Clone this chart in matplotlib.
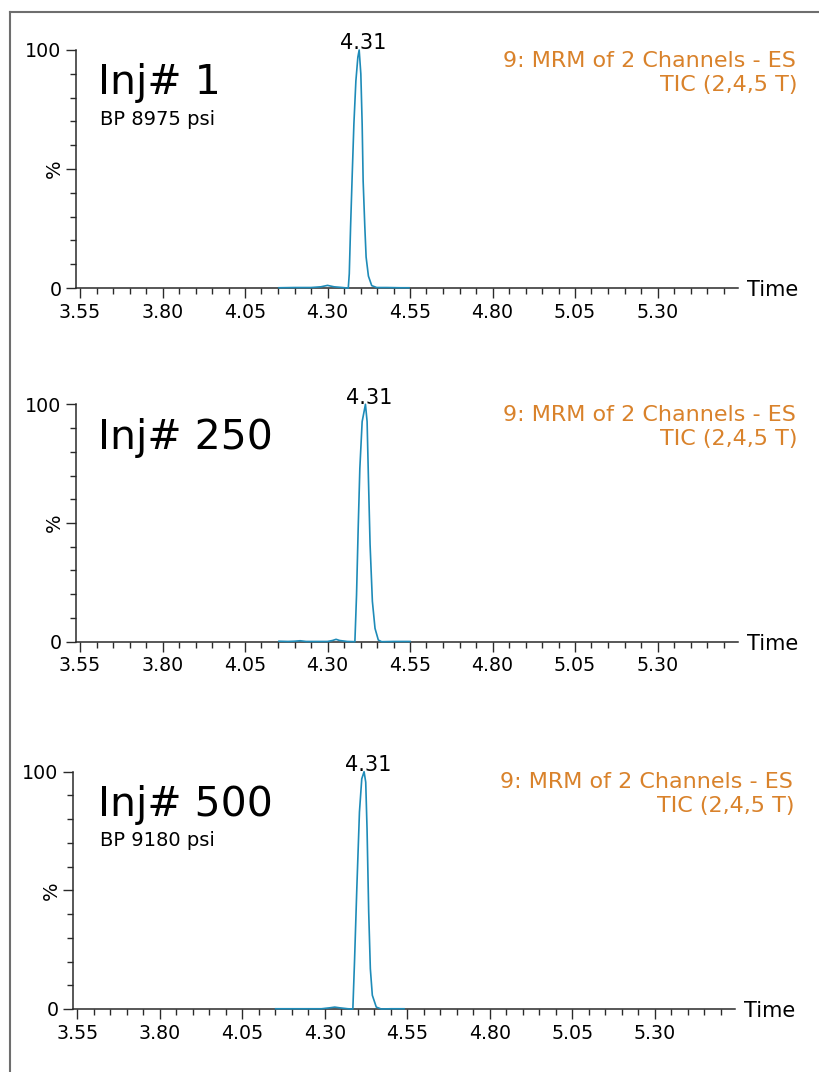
import matplotlib
matplotlib.use("Agg")
import matplotlib.pyplot as plt
from matplotlib.lines import Line2D
import numpy as np

plt.rcParams['font.family'] = ['DejaVu Sans']

# ---------------- data ----------------
inj_labels = ["Inj# 1", "Inj# 250", "Inj# 500"]
bp_labels = ["BP 8975 psi", None, "BP 9180 psi"]
peak_label = "4.31"
channel_line1 = "9: MRM of 2 Channels - ES"
channel_line2 = "TIC (2,4,5 T)"
x_major = [3.55, 3.80, 4.05, 4.30, 4.55, 4.80, 5.05, 5.30]
x_major_labels = ["3.55", "3.80", "4.05", "4.30", "4.55", "4.80", "5.05", "5.30"]

time_1 = [4.153, 4.20, 4.25, 4.28, 4.300, 4.32, 4.345, 4.360, 4.363, 4.366, 4.370,
          4.375, 4.380, 4.386, 4.392, 4.396, 4.401, 4.405, 4.408, 4.413, 4.417,
          4.424, 4.434, 4.449, 4.48, 4.52, 4.547]
inten_1 = [0.1, 0.2, 0.2, 0.5, 1.1, 0.5, 0.2, 0.0, 0.0, 6, 26,
           48, 69, 87, 97, 100, 90, 69, 45, 26, 13,
           5, 1.0, 0.2, 0.2, 0.1, 0.1]

time_2 = [4.153, 4.18, 4.20, 4.217, 4.235, 4.27, 4.30, 4.315, 4.326, 4.337, 4.36,
          4.383, 4.388, 4.393, 4.398, 4.405, 4.415, 4.420, 4.424, 4.429, 4.436,
          4.444, 4.454, 4.464, 4.50, 4.550]
inten_2 = [0.2, 0.1, 0.2, 0.4, 0.1, 0.1, 0.1, 0.5, 1.0, 0.5, 0.1,
           0.0, 19.7, 47.8, 73, 92.7, 100, 92.7, 69, 41, 17,
           5.6, 0.7, 0.0, 0.1, 0.1]

time_3 = [4.151, 4.20, 4.25, 4.29, 4.315, 4.330, 4.345, 4.37, 4.385, 4.390,
          4.397, 4.405, 4.412, 4.419, 4.424, 4.428, 4.433, 4.438, 4.444,
          4.456, 4.471, 4.50, 4.54]
inten_3 = [0.1, 0.1, 0.1, 0.1, 0.5, 0.8, 0.5, 0.1, 0.0, 19.8,
           50.7, 83, 97, 100, 95.6, 76, 41, 17, 5.8,
           0.8, 0.0, 0.1, 0.1]

times = [time_1, time_2, time_3]
intens = [inten_1, inten_2, inten_3]

# ---------------- layout ----------------
W, H = 819, 1072
fig = plt.figure(figsize=(W / 100, H / 100), dpi=100)

def fx(px):
    return px / W

def fy(py):
    return 1 - py / H

LINE_COLOR = "#1e8bb8"
ORANGE = "#d9822b"
AX_COLOR = "#2a2a2a"

XMIN = 3.55 - 4 / 330
XMAX = 3.55 + (737.7 - 80) / 330

# (axes left px, top px, bottom px)
panels = [(76.0, 50.0, 288.0), (76.0, 404.3, 641.7), (73.3, 771.7, 1009.0)]
width_px = 737.7 - 76.0

# outer frame (top and left edges)
fig.add_artist(Line2D([fx(9.5), fx(830)], [fy(11.7), fy(11.7)], color="#6e6e6e", lw=1.5))
fig.add_artist(Line2D([fx(9.5), fx(9.5)], [fy(11.7), fy(1080)], color="#6e6e6e", lw=1.5))

for k, (left, top, bottom) in enumerate(panels):
    ax = fig.add_axes([fx(left), fy(bottom), width_px / W, (bottom - top) / H])
    ax.set_xlim(XMIN, XMAX)
    ax.set_ylim(0, 100)
    for s in ["top", "right"]:
        ax.spines[s].set_visible(False)
    for s in ["left", "bottom"]:
        ax.spines[s].set_color(AX_COLOR)
        ax.spines[s].set_linewidth(1.1)

    ax.plot(times[k], intens[k], color=LINE_COLOR, lw=1.2, zorder=3, clip_on=False)

    ax.set_xticks(x_major)
    ax.set_xticklabels(x_major_labels)
    ax.set_xticks(np.round(np.arange(3.55, 5.5001, 0.05), 2), minor=True)
    ax.set_yticks([0, 50, 100])
    ax.set_yticklabels(["0", "", "100"])
    ax.set_yticks(np.arange(0, 101, 10), minor=True)
    ax.tick_params(axis="both", which="major", direction="out", length=7.5, width=1.0,
                   color=AX_COLOR, labelsize=13.7, labelcolor="black")
    ax.tick_params(axis="both", which="minor", direction="out", length=4.0, width=1.0,
                   color=AX_COLOR)
    ax.tick_params(axis="x", which="major", pad=3)
    ax.tick_params(axis="y", which="major", pad=3)

    # peak label
    t = times[k]
    v = intens[k]
    ip = int(np.argmax(v))
    ax.annotate(peak_label, xy=(t[ip], v[ip]), xytext=(3, 0.5), textcoords="offset points",
                ha="center", va="baseline", fontsize=15, color="black",
                annotation_clip=False)

    dy = top - 50.0
    dx = left - 76.0
    fig.text(fx(98 + (0 if k < 2 else 0)), fy(94.3 + dy), inj_labels[k], fontsize=29.5,
             ha="left", va="baseline", color="black")
    if bp_labels[k]:
        fig.text(fx(99.7), fy(125 + dy - (0 if k == 0 else 0.5)), bp_labels[k], fontsize=14,
                 ha="left", va="baseline", color="black")
    fig.text(fx(796 + dx), fy(66.7 + dy), channel_line1, fontsize=16, ha="right",
             va="baseline", color=ORANGE)
    fig.text(fx(797 + dx), fy(90.7 + dy), channel_line2, fontsize=16, ha="right",
             va="baseline", color=ORANGE)
    fig.text(fx(747 + dx), fy(bottom + 8), "Time", fontsize=15, ha="left",
             va="baseline", color="black")
    fig.text(fx(left - 21.5), fy((top + bottom) / 2), "%", fontsize=14, rotation=90,
             ha="center", va="center", color="black")

fig.savefig("out.png", dpi=100)
